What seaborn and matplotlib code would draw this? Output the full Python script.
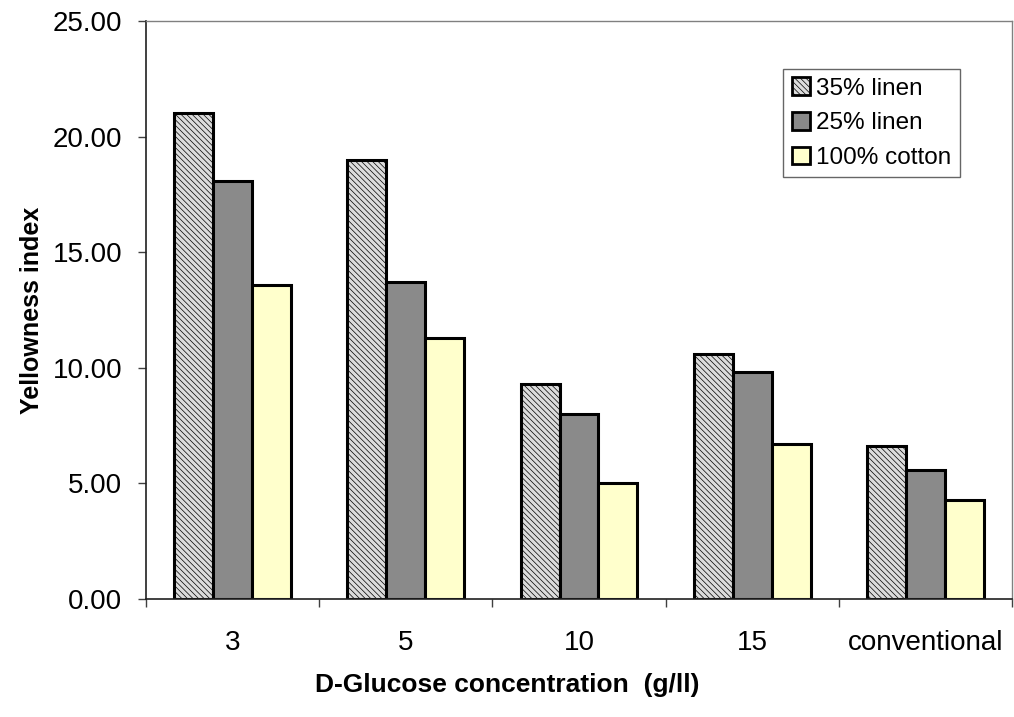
import matplotlib
matplotlib.use("Agg")
import matplotlib.pyplot as plt
import seaborn as sns
import pandas as pd
from matplotlib.ticker import FixedLocator, FormatStrFormatter
from matplotlib.patches import Patch

categories = ["3", "5", "10", "15", "conventional"]
series_names = ["35% linen", "25% linen", "100% cotton"]
linen35 = [21.0, 19.0, 9.3, 10.6, 6.6]
linen25 = [18.1, 13.7, 8.0, 9.8, 5.6]
cotton100 = [13.6, 11.3, 5.0, 6.7, 4.3]

rows = []
for name, vals in zip(series_names, [linen35, linen25, cotton100]):
    for c, v in zip(categories, vals):
        rows.append({"conc": c, "series": name, "value": v})
df = pd.DataFrame(rows)

sns.set_style("white")
plt.rcParams["font.family"] = ["Liberation Sans", "DejaVu Sans"]
plt.rcParams["hatch.linewidth"] = 0.5
for k in ["text.color", "axes.labelcolor", "xtick.color", "ytick.color"]:
    plt.rcParams[k] = "black"

fig = plt.figure(figsize=(10.14, 7.17), dpi=100)
ax = fig.add_axes([146/1014, 1 - 599/717, (1012-146)/1014, (599-21)/717])

faces = ["#dcdcdc", "#8a8a8a", "#ffffcc"]
hatches = ["\\\\\\\\\\\\", "", ""]

sns.barplot(data=df, x="conc", y="value", hue="series", order=categories,
            hue_order=series_names, palette=faces, width=0.675, gap=0,
            edgecolor="black", linewidth=2.2, saturation=1, ax=ax, legend=False, errorbar=None)

for cont, fc, h in zip(ax.containers, faces, hatches):
    for bar in cont:
        bar.set_facecolor(fc)
        bar.set_hatch(h)
        bar.set_edgecolor("black")

ax.set_xlim(-0.5, 4.5)
ax.set_ylim(0, 25)
ax.yaxis.set_major_locator(FixedLocator([0, 5, 10, 15, 20, 25]))
ax.yaxis.set_major_formatter(FormatStrFormatter("%.2f"))
ax.xaxis.set_minor_locator(FixedLocator([-0.5, 0.5, 1.5, 2.5, 3.5, 4.5]))
ax.tick_params(axis="x", which="major", length=0, pad=22, labelsize=20, labelcolor="black")
ax.tick_params(axis="x", which="minor", length=6, width=1, color="#404040", direction="out", bottom=True)
ax.tick_params(axis="y", which="major", length=6, width=1, color="#404040", direction="out", left=True, pad=11, labelsize=20, labelcolor="black")

for s in ["left", "bottom"]:
    ax.spines[s].set_color("#202020")
    ax.spines[s].set_linewidth(1.2)
for s in ["top", "right"]:
    ax.spines[s].set_color("#808080")
    ax.spines[s].set_linewidth(1.0)

ax.set_xlabel("D-Glucose concentration  (g/ll)", fontsize=19, fontweight="bold", color="black")
ax.set_ylabel("Yellowness index", fontsize=18, fontweight="bold", color="black")
ax.xaxis.set_label_coords((507 - 146) / 866, -0.128)
ax.yaxis.set_label_coords(-0.118, 0.5)

handles = [Patch(facecolor=fc, hatch=h, edgecolor="black", linewidth=2) for fc, h in zip(faces, hatches)]
leg = ax.legend(handles, series_names, loc="upper left", bbox_to_anchor=(0.7356, 0.917),
                fontsize=17.5, frameon=True, fancybox=False, handlelength=0.75, handleheight=0.75,
                handletextpad=0.25, labelspacing=0.5, borderpad=0.35, borderaxespad=0)
leg.get_frame().set_edgecolor("#404040")
leg.get_frame().set_linewidth(1.0)
for t in leg.get_texts():
    t.set_color("black")

fig.savefig("out.png", dpi=100)
